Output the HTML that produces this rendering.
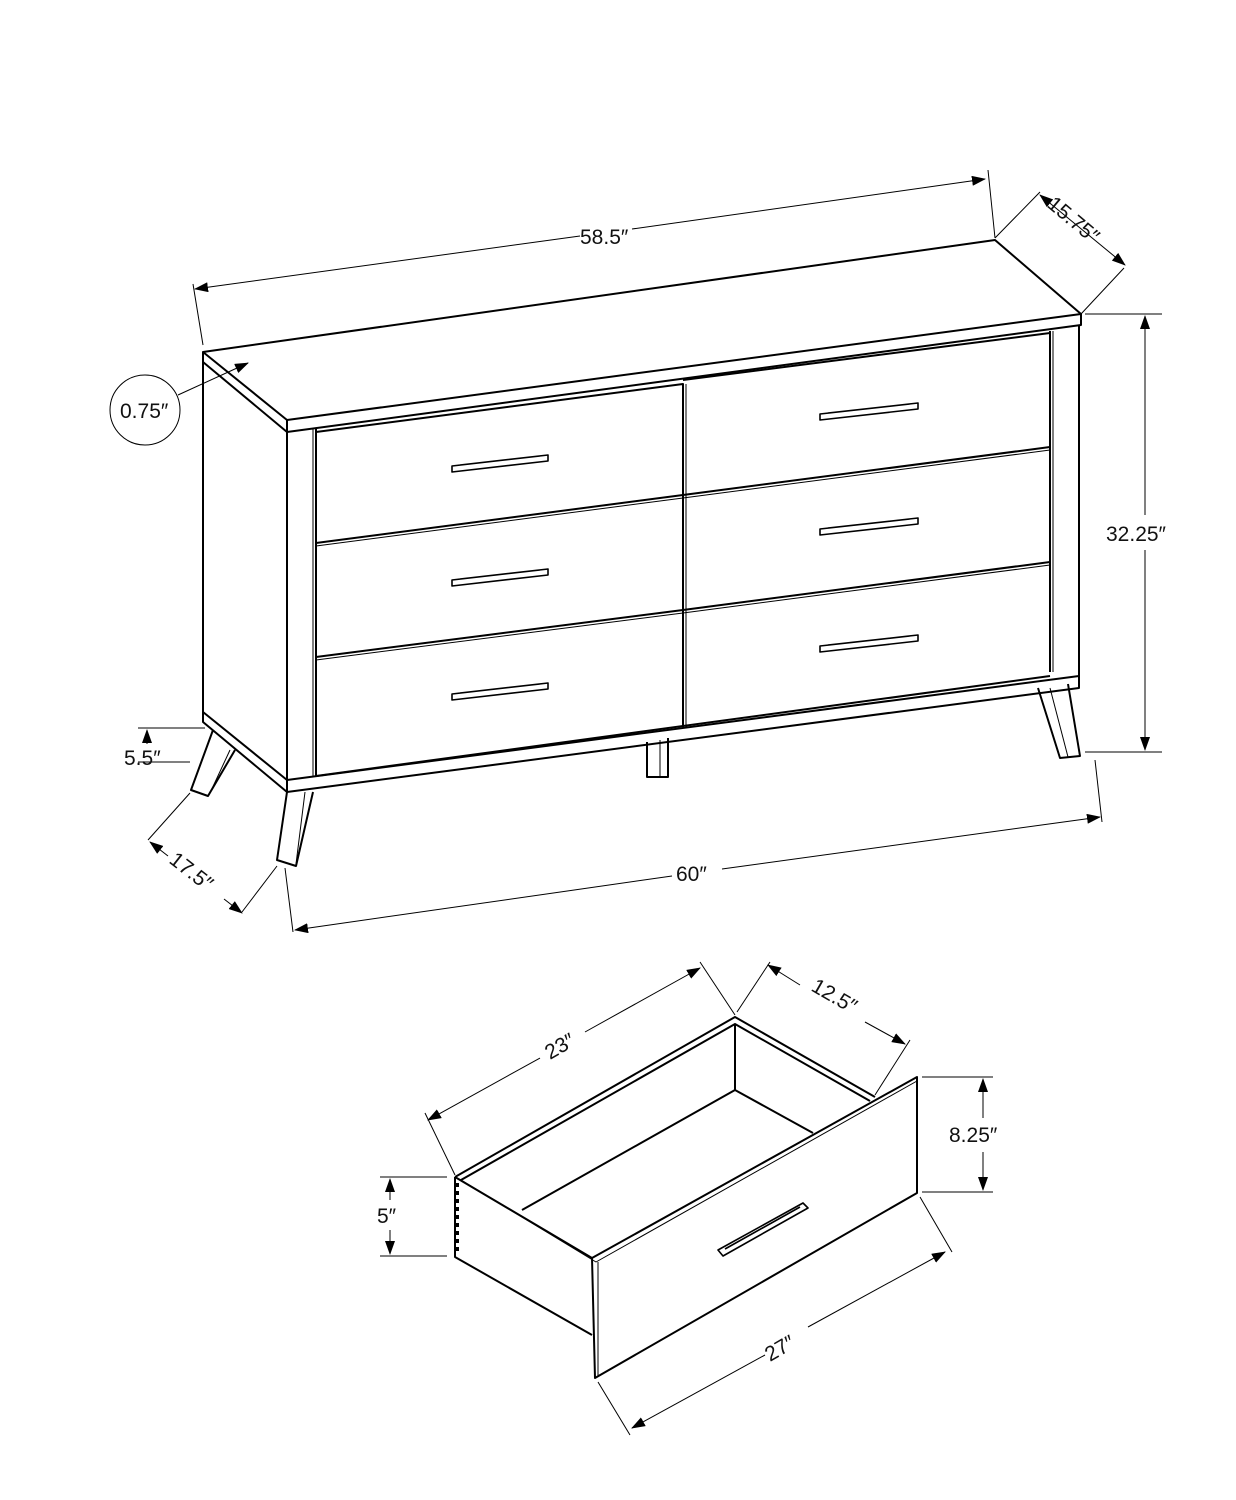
<!DOCTYPE html>
<html><head><style>body{margin:0;background:#fff}svg{display:block}text{font-family:"Liberation Sans",sans-serif;font-size:21px;fill:#111}</style></head><body>
<svg width="1236" height="1500" viewBox="0 0 1236 1500">
<defs><marker id="a" markerWidth="14" markerHeight="10" refX="13" refY="5" orient="auto" markerUnits="userSpaceOnUse"><path d="M0,0 L14,5 L0,10z" fill="#000"/></marker>
<marker id="b" markerWidth="14" markerHeight="10" refX="1" refY="5" orient="auto" markerUnits="userSpaceOnUse"><path d="M14,0 L0,5 L14,10z" fill="#000"/></marker></defs>
<g fill="none" stroke="#000" stroke-width="2" stroke-linejoin="round">
<path d="M203,352 L995,240 L1081,314 L287,420 Z"/>
<path d="M287,420 L287,432 L1081,325 L1081,314"/>
<path d="M203,352 L203,362 L287,432"/>
<path d="M203,362 L203,712 L287,780"/>
<path d="M203,712 L203,722 L287,792"/>
<path d="M287,432 L287,792 L1079,688 L1079,325"/>
<path d="M316,428 L316,776"/><path d="M313,428 L313,776" stroke-width="1"/>
<path d="M1050,331 L1050,672"/><path d="M1053,331 L1053,672" stroke-width="1"/>
<path d="M287,780 L1079,676"/>
<path d="M316,776 L1050,676"/>
<path d="M316,432 L683,384 L683,727"/>
<path d="M686,384 L686,727" stroke-width="1"/>
<path d="M683,380 L1050,333"/>
<path d="M316,543 L683,495 L1050,447"/>
<path d="M316,546 L683,498 L1050,450" stroke-width="1"/>
<path d="M316,657 L683,610 L1050,562"/>
<path d="M316,660 L683,613 L1050,565" stroke-width="1"/>
<g stroke-width="1.6">
<path d="M452,466 L548,455 L548,461 L452,472Z M460,465 L540,456"/>
<path d="M452,580 L548,569 L548,575 L452,586Z M460,579 L540,570"/>
<path d="M452,694 L548,683 L548,689 L452,700Z M460,693 L540,684"/>
<path d="M820,414 L918,403 L918,409 L820,420Z M828,413 L910,404"/>
<path d="M820,529 L918,518 L918,524 L820,535Z M828,528 L910,519"/>
<path d="M820,646 L918,635 L918,641 L820,652Z M828,645 L910,636"/>
</g>
<path d="M213,730 L191,790 L208,796 L235,750"/><path d="M230,750 L210,793" stroke-width="1"/>
<path d="M287,792 L277,860 L296,866 L313,792"/><path d="M305,792 L296,864" stroke-width="1"/>
<path d="M647,742 L647,777 L668,777 L668,738"/><path d="M660,740 L660,777" stroke-width="1"/>
<path d="M1038,688 L1060,758 L1080,756 L1068,684"/><path d="M1050,688 L1068,757" stroke-width="1"/>
<path d="M455,1177 L735,1017 L875,1097"/>
<path d="M461,1180 L735,1024 L870,1101"/>
<path d="M455,1177 L455,1257 L592,1335"/>
<path d="M455,1177 L592,1258 L917,1077 L917,1193 L595,1378 L592,1258"/>
<path d="M461,1180 L596,1262 L917,1081" stroke-width="1"/>
<path d="M598,1262 L598,1377" stroke-width="1"/>
<path d="M735,1024 L735,1090 L522,1210"/>
<path d="M735,1090 L813,1133"/>
<path d="M718,1250 L803,1203 L808,1208 L723,1256Z M725,1249 L800,1207" stroke-width="1.6"/>
<path d="M457,1183 v70" stroke-dasharray="4,4" stroke-width="4"/>
</g>
<g fill="none" stroke="#000" stroke-width="1">
<path d="M193,284 L203,345 M988,170 L995,238"/>
<path d="M195,289 L580,236" marker-start="url(#b)"/><path d="M632,229 L985,179" marker-end="url(#a)"/>
<path d="M995,238 L1040,192 M1081,314 L1124,268"/>
<path d="M1040,195 L1125,265" marker-start="url(#b)" marker-end="url(#a)"/>
<path d="M1085,314 L1162,314 M1085,752 L1162,752"/>
<path d="M1145,316 L1145,515" marker-start="url(#b)"/><path d="M1145,550 L1145,750" marker-end="url(#a)"/>
<path d="M1095,760 L1102,822 M285,868 L293,932"/>
<path d="M295,930 L672,876" marker-start="url(#b)"/><path d="M722,869 L1100,817" marker-end="url(#a)"/>
<path d="M190,793 L148,840 M277,866 L242,912"/>
<path d="M150,842 L168,856" marker-start="url(#b)"/><path d="M224,899 L242,913" marker-end="url(#a)"/>
<path d="M138,728 L205,728 M138,762 L190,762"/>
<path d="M147,730 L147,744" marker-start="url(#b)"/>
<circle cx="145" cy="410" r="35"/>
<path d="M178,395 L248,363" marker-end="url(#a)"/>
<path d="M425,1113 L455,1175 M700,962 L735,1015"/>
<path d="M428,1120 L540,1058" marker-start="url(#b)"/><path d="M585,1032 L700,968" marker-end="url(#a)"/>
<path d="M737,1012 L770,962 M875,1095 L910,1040"/>
<path d="M768,965 L800,985" marker-start="url(#b)"/><path d="M865,1022 L905,1044" marker-end="url(#a)"/>
<path d="M922,1077 L993,1077 M922,1192 L993,1192"/>
<path d="M983,1079 L983,1118" marker-start="url(#b)"/><path d="M983,1152 L983,1190" marker-end="url(#a)"/>
<path d="M380,1177 L447,1177 M380,1256 L447,1256"/>
<path d="M390,1179 L390,1200" marker-start="url(#b)"/><path d="M390,1230 L390,1254" marker-end="url(#a)"/>
<path d="M598,1382 L630,1435 M920,1197 L952,1252"/>
<path d="M632,1428 L765,1355" marker-start="url(#b)"/><path d="M808,1327 L945,1252" marker-end="url(#a)"/>
</g>
<text x="580" y="244">58.5″</text>
<text transform="translate(1046,206) rotate(40)">15.75″</text>
<text x="1106" y="541">32.25″</text>
<text x="676" y="881">60″</text>
<text transform="translate(168,862) rotate(38)">17.5″</text>
<text x="124" y="765">5.5″</text>
<text x="120" y="418">0.75″</text>
<text transform="translate(550,1060) rotate(-30)">23″</text>
<text transform="translate(810,990) rotate(30)">12.5″</text>
<text x="949" y="1142">8.25″</text>
<text x="377" y="1223">5″</text>
<text transform="translate(770,1362) rotate(-30)">27″</text>
</svg>
</body></html>
